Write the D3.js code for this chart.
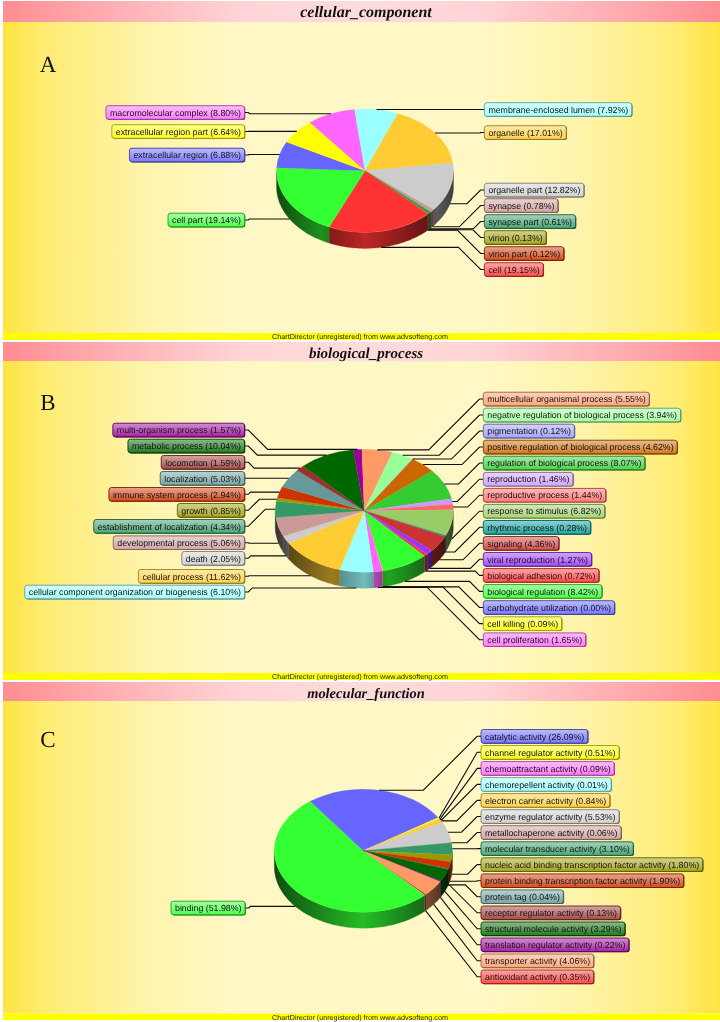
<!DOCTYPE html>
<html lang="en">
<head>
    <meta charset="UTF-8">
    <title>GO pies</title>
    <style>
        body{
            margin:0;
            background:#fff;
        }
        svg{
            display:block;
            filter:blur(0.35px);
            text-rendering:geometricPrecision;
        }
        .lbl{
            font-family:"Liberation Sans",Arial,sans-serif;
            font-size:8.8px;
            fill:#141414;
        }
        .foot{
            font-family:"Liberation Sans",Arial,sans-serif;
            font-size:7.2px;
            fill:#222;
        }
        .title{
            font-family:"Liberation Serif",serif;
            font-style:italic;
            font-weight:bold;
            fill:#111;
        }
        .tag{
            font-family:"Liberation Serif",serif;
            font-size:23px;
            fill:#111;
        }
    </style>
    <script src="https://cdn.jsdelivr.net/npm/d3@7/dist/d3.min.js"></script>
</head>
<body>
<div id="container"></div>
<script>

// slices run clockwise from 135deg, same order as the source charts
var ccNames = ["cell", "cell part", "extracellular region", "extracellular region part",
    "macromolecular complex", "membrane-enclosed lumen", "organelle", "organelle part",
    "synapse", "synapse part", "virion", "virion part"];
var ccValues = [19.15, 19.14, 6.88, 6.64, 8.80, 7.92, 17.01, 12.82, 0.78, 0.61, 0.13, 0.12];

var bpNames = ["biological adhesion", "biological regulation", "carbohydrate utilization",
    "cell killing", "cell proliferation", "cellular component organization or biogenesis",
    "cellular process", "death", "developmental process", "establishment of localization",
    "growth", "immune system process", "localization", "locomotion", "metabolic process",
    "multi-organism process", "multicellular organismal process",
    "negative regulation of biological process", "pigmentation",
    "positive regulation of biological process", "regulation of biological process",
    "reproduction", "reproductive process", "response to stimulus", "rhythmic process",
    "signaling", "viral reproduction"];
var bpValues = [0.72, 8.42, 0.00, 0.09, 1.65, 6.10, 11.62, 2.05, 5.06, 4.34, 0.85, 2.94, 5.03,
    1.59, 10.04, 1.57, 5.55, 3.94, 0.12, 4.62, 8.07, 1.46, 1.44, 6.82, 0.28, 4.36, 1.27];

var mfNames = ["antioxidant activity", "binding", "catalytic activity", "channel regulator activity",
    "chemoattractant activity", "chemorepellent activity", "electron carrier activity",
    "enzyme regulator activity", "metallochaperone activity", "molecular transducer activity",
    "nucleic acid binding transcription factor activity",
    "protein binding transcription factor activity", "protein tag", "receptor regulator activity",
    "structural molecule activity", "translation regulator activity", "transporter activity"];
var mfValues = [0.35, 51.98, 26.09, 0.51, 0.09, 0.01, 0.84, 5.53, 0.06, 3.10, 1.80, 1.90, 0.04,
    0.13, 3.29, 0.22, 4.06];

var pieColors = ["#ff3333", "#33ff33", "#6666ff", "#ffff00", "#ff66ff", "#99ffff", "#ffcc33",
    "#cccccc", "#cc9999", "#339966", "#999900", "#cc3300", "#669999", "#993333", "#006600",
    "#990099", "#ff9966", "#99ff99", "#9999ff", "#cc6600", "#33cc33", "#cc99ff", "#ff6666",
    "#99cc66", "#009999", "#cc3333", "#9933ff"];

// label rows, top to bottom, one list per side of each pie
var ccRight = [109.5, 132.5, 190, 205.5, 221.5, 237.5, 253.5, 269.5];
var ccLeft = [112.5, 131.5, 155, 220];
var bpRight = [399, 415, 431, 447, 463, 479.2, 495.2, 511.2, 527.3, 543.3, 559.3, 575.4, 591.4, 607.5, 623.6, 639.7];
var bpLeft = [430, 446, 462.3, 478.3, 494.3, 510.3, 526.3, 542.7, 558.3, 576.3, 592];
var mfRight = [736.3, 752.3, 768.4, 784.4, 800.4, 816.5, 832.5, 848.6, 864.6, 880.7, 896.7, 912.8, 928.8, 944.8, 960.8, 976.8];
var mfLeft = [908];

var panels = [
    {title: "cellular_component", titleSize: 16, tag: "A", tagY: 72, names: ccNames, values: ccValues, right: ccRight, left: ccLeft,
        top: 1, body: 22, strip: 333, end: 340, cx: 365, cy: 170.7, rx: 88.5, ry: 61.7, rightX: 484.4, leftX: 244.5},
    {title: "biological_process", titleSize: 15, tag: "B", tagY: 410, names: bpNames, values: bpValues, right: bpRight, left: bpLeft,
        top: 342, body: 361, strip: 673, end: 680, cx: 364.3, cy: 510.7, rx: 89, ry: 61.5, rightX: 483.3, leftX: 244.5},
    {title: "molecular_function", titleSize: 14.4, tag: "C", tagY: 747, names: mfNames, values: mfValues, right: mfRight, left: mfLeft,
        top: 682, body: 701, strip: 1013.5, end: 1020, cx: 363.3, cy: 850.7, rx: 89, ry: 61.5, rightX: 481, leftX: 245}
];

var w = 720;
var h = 1022;
var depth = 16;
var startAngle = 135 * Math.PI / 180;

var svg = d3.select("#container")
        .append("svg")
        .attr("width", w)
        .attr("height", h);

var defs = svg.append("defs");

function hGrad(id, stops) {
    var g = defs.append("linearGradient").attr("id", id);
    g.selectAll("stop")
            .data(stops)
            .enter()
            .append("stop")
            .attr("offset", function(d) { return d[0]; })
            .attr("stop-color", function(d) { return d[1]; });
    return g;
}

hGrad("bodyGrad", [[0, "#ffe440"], [0.06, "#ffec74"], [0.2, "#fff4ac"], [0.33, "#fff8c6"],
    [0.67, "#fff8c6"], [0.8, "#fff4ac"], [0.94, "#ffec74"], [1, "#ffe440"]]);
hGrad("titleGrad", [[0, "#ff8d92"], [0.12, "#ffa8ac"], [0.33, "#ffd4d6"], [0.5, "#ffdcdc"],
    [0.67, "#ffd4d6"], [0.88, "#ffa8ac"], [1, "#ff8d92"]]);

function shade(c, f) {
    var r = d3.rgb(c);
    return d3.rgb(r.r * f, r.g * f, r.b * f).formatHex();
}
function tint(c, f) {
    return d3.interpolateRgb(c, "#fff")(f);
}

// pill gradients, one per palette colour
pieColors.forEach(function(c, i) {
    var g = defs.append("linearGradient")
            .attr("id", "pill" + i)
            .attr("x1", 0).attr("y1", 0).attr("x2", 0).attr("y2", 1);
    g.append("stop").attr("offset", 0).attr("stop-color", tint(c, 0.55));
    g.append("stop").attr("offset", 0.45).attr("stop-color", tint(c, 0.38));
    g.append("stop").attr("offset", 1).attr("stop-color", tint(c, 0.12));
});

panels.forEach(drawPanel);

function drawPanel(p, n) {
    var g = svg.append("g");

    g.append("rect").attr("x", 3).attr("y", p.top).attr("width", w - 3).attr("height", p.body - p.top)
            .attr("fill", "url(#titleGrad)");
    g.append("rect").attr("x", 3).attr("y", p.body).attr("width", w - 3).attr("height", p.strip - p.body)
            .attr("fill", "url(#bodyGrad)");
    g.append("rect").attr("x", 3).attr("y", p.strip).attr("width", w - 3).attr("height", p.end - p.strip)
            .attr("fill", "#ffff00");

    g.append("text").attr("class", "title")
            .attr("x", 366).attr("y", p.top + 15.5)
            .attr("text-anchor", "middle")
            .style("font-size", p.titleSize + "px")
            .text(p.title);
    g.append("text").attr("class", "tag")
            .attr("x", 48).attr("y", p.tagY)
            .attr("text-anchor", "middle")
            .text(p.tag);
    g.append("text").attr("class", "foot")
            .attr("x", 360).attr("y", p.strip + 6)
            .attr("text-anchor", "middle")
            .text("ChartDirector (unregistered) from www.advsofteng.com");

    var pie = d3.pie()
            .sort(null)
            .startAngle(startAngle)
            .endAngle(startAngle + 2 * Math.PI);
    var arcs = pie(p.values);

    function px(a) { return p.cx + p.rx * Math.sin(a); }
    function py(a) { return p.cy - p.ry * Math.cos(a); }

    // side wall, only the front half of the ellipse shows
    var wallLine = d3.line().x(function(d) { return d[0]; }).y(function(d) { return d[1]; });
    var front = [[Math.PI / 2, 1.5 * Math.PI], [2.5 * Math.PI, 3.5 * Math.PI]];
    var walls = g.append("g");

    arcs.forEach(function(d, i) {
        front.forEach(function(f, k) {
            var a0 = Math.max(d.startAngle, f[0]);
            var a1 = Math.min(d.endAngle, f[1]);
            if (a1 <= a0) return;
            var steps = d3.range(0, 1.0001, 1 / Math.max(2, Math.ceil((a1 - a0) * 40))).map(function(t) {
                return a0 + (a1 - a0) * t;
            });
            var topEdge = steps.map(function(a) { return [px(a), py(a)]; });
            var lowEdge = steps.slice().reverse().map(function(a) { return [px(a), py(a) + depth]; });
            var x0 = d3.min(topEdge, function(q) { return q[0]; });
            var x1 = d3.max(topEdge, function(q) { return q[0]; });

            var light = function(x) { return 0.74 - 0.36 * Math.abs(x - p.cx) / p.rx; };
            var mid = Math.max(x0, Math.min(x1, p.cx));
            var frac = Math.max(0.15, Math.min(0.85, (mid - x0) / Math.max(1, x1 - x0)));
            var id = "wall" + n + "_" + i + "_" + k;
            var grad = defs.append("linearGradient").attr("id", id)
                    .attr("gradientUnits", "userSpaceOnUse")
                    .attr("x1", x0).attr("x2", x1).attr("y1", 0).attr("y2", 0);
            var c = pieColors[i];
            grad.append("stop").attr("offset", 0).attr("stop-color", shade(c, light(x0) - 0.08));
            grad.append("stop").attr("offset", frac).attr("stop-color", shade(c, light(x0 + (x1 - x0) * frac)));
            grad.append("stop").attr("offset", 1).attr("stop-color", shade(c, light(x1) - 0.08));

            walls.append("path")
                    .attr("d", wallLine(topEdge.concat(lowEdge)) + "Z")
                    .attr("fill", "url(#" + id + ")")
                    .attr("stroke", "url(#" + id + ")")
                    .attr("stroke-width", 0.3);
        });
    });

    // top face: a circular d3.arc squashed into the ellipse
    var arc = d3.arc().innerRadius(0).outerRadius(p.rx);
    g.append("g")
            .attr("transform", "translate(" + p.cx + "," + p.cy + ") scale(1," + (p.ry / p.rx) + ")")
            .selectAll("path")
            .data(arcs)
            .enter()
            .append("path")
            .attr("d", arc)
            .attr("fill", function(d, i) { return pieColors[i]; })
            .attr("stroke", function(d, i) { return pieColors[i]; })
            .attr("stroke-width", 0.25);

    // sides are decided by the slice midpoint, rows fill from the top
    var items = arcs.map(function(d, i) {
        var a = (d.startAngle + d.endAngle) / 2;
        var deg = (a % (2 * Math.PI)) * 180 / Math.PI;
        var isFront = Math.cos(a) < 0;
        return {i: i, a: a, deg: deg, ax: px(a), ay: py(a) + (isFront ? depth : 0)};
    });
    var rightItems = items.filter(function(d) { return d.deg < 180; })
            .sort(function(a, b) { return a.deg - b.deg; });
    var leftItems = items.filter(function(d) { return d.deg >= 180; })
            .sort(function(a, b) { return b.deg - a.deg; });
    rightItems.forEach(function(d, r) { d.y = p.right[r]; d.side = 1; });
    leftItems.forEach(function(d, r) { d.y = p.left[r]; d.side = -1; });

    var leaders = g.append("g");
    var labels = g.append("g");

    items.forEach(function(d) {
        var edge = d.side > 0 ? p.rightX : p.leftX;
        var stub = edge - d.side * 3.8;
        var dy = Math.abs(d.y - d.ay);
        var elbow = stub - d.side * dy;
        if ((elbow - d.ax) * d.side < 0) elbow = d.ax;
        var pts = [[d.ax, d.ay], [elbow, d.ay], [stub, d.y], [edge, d.y]];
        leaders.append("path")
                .attr("d", d3.line()(pts))
                .attr("fill", "none")
                .attr("stroke", "#0c0c0c")
                .attr("stroke-width", 1.1);

        var lab = labels.append("g");
        var txt = lab.append("text").attr("class", "lbl")
                .attr("y", d.y + 3.2)
                .text(p.names[d.i] + " (" + p.values[d.i].toFixed(2) + "%)");
        var tw = txt.node().getComputedTextLength();
        var bw = tw + 7.5;
        var bx = d.side > 0 ? edge : edge - bw;
        txt.attr("x", bx + 4);
        var c = pieColors[d.i];
        lab.insert("rect", "text")
                .attr("x", bx + 0.8).attr("y", d.y - 6.2)
                .attr("width", bw).attr("height", 13.6)
                .attr("rx", 2.5)
                .attr("fill", shade(c, 0.45));
        lab.insert("rect", "text")
                .attr("x", bx).attr("y", d.y - 6.8)
                .attr("width", bw).attr("height", 13.6)
                .attr("rx", 2.5)
                .attr("fill", "url(#pill" + d.i + ")")
                .attr("stroke", shade(c, 0.62))
                .attr("stroke-width", 0.9);
    });
}

</script>
</body>
</html>
